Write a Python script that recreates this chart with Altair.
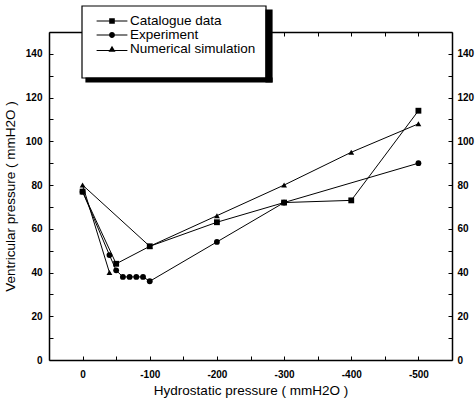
import altair as alt
import pandas as pd

# Ventricular pressure (mmH2O) against hydrostatic pressure (mmH2O)
series = ["Catalogue data", "Experiment", "Numerical simulation"]

cat_x = [0, -50, -100, -200, -300, -400, -500]
cat_y = [77, 44, 52, 63, 72, 73, 114]

exp_x = [0, -40, -50, -60, -70, -80, -90, -100, -200, -300, -500]
exp_y = [77, 48, 41, 38, 38, 38, 38, 36, 54, 72, 90]

# the simulation trace runs from its -40 point back through the origin, then outward
sim_x = [-40, 0, -100, -200, -300, -400, -500]
sim_y = [40, 80, 52, 66, 80, 95, 108]

x_minor = [0, -50, -100, -150, -200, -250, -300, -350, -400, -450, -500]
y_minor = list(range(0, 151, 10))

rows = []
for name, xs, ys in zip(series, [cat_x, exp_x, sim_x], [cat_y, exp_y, sim_y]):
    for i, (xv, yv) in enumerate(zip(xs, ys)):
        rows.append({"series": name, "hp": xv, "vp": yv, "seq": i})
df = pd.DataFrame(rows)

FONT = "Liberation Sans"
xscale = alt.Scale(domain=[50, -550], nice=False, zero=False)
yscale = alt.Scale(domain=[0, 150], nice=False)

common_axis = dict(
    grid=False,
    domainColor="black",
    domainWidth=1.5,
    tickColor="black",
    tickWidth=1,
    tickSize=alt.ExprRef(expr="-4"),
    labelFont=FONT,
    labelFontSize=10,
    labelFontWeight="bold",
    labelColor="black",
    titleFont=FONT,
    titleFontSize=13.5,
    titleFontWeight="normal",
    titleColor="black",
)

x_label_expr = "datum.value % 100 == 0 ? '' + datum.value : ''"
y_label_expr = "datum.value % 20 == 0 && datum.value < 150 ? '' + datum.value : ''"

base = alt.Chart(df)

lines = base.mark_line(color="black", strokeWidth=1).encode(
    x=alt.X("hp:Q", scale=xscale, axis=alt.Axis(
        orient="bottom", values=x_minor, labelExpr=x_label_expr,
        title="Hydrostatic pressure ( mmH2O )", labelPadding=13, titlePadding=4,
        **common_axis)),
    y=alt.Y("vp:Q", scale=yscale, axis=alt.Axis(
        orient="left", values=y_minor, labelExpr=y_label_expr,
        title="Ventricular pressure ( mmH2O )", labelPadding=11, titlePadding=8,
        **common_axis)),
    detail="series:N",
    order="seq:Q",
)

points = base.mark_point(filled=True, color="black", opacity=1).encode(
    x=alt.X("hp:Q", scale=xscale, axis=alt.Axis(
        orient="top", values=x_minor, labels=False, title=None, **common_axis)),
    y=alt.Y("vp:Q", scale=yscale, axis=alt.Axis(
        orient="right", values=y_minor, labelExpr=y_label_expr, title=None,
        labelPadding=9, **common_axis)),
    shape=alt.Shape("series:N", legend=None, scale=alt.Scale(
        domain=series, range=["square", "circle", "triangle-up"])),
    size=alt.Size("series:N", legend=None, scale=alt.Scale(
        domain=series, range=[34, 34, 46])),
)

# legend glyphs: a thin bar (the line) with the series marker on it, fill only
bar = "M-2.2,-0.07H2.2V0.07H-2.2Z"
leg_paths = [
    bar + "M-0.4,-0.4H0.4V0.4H-0.4Z",
    bar + "M0.42,0A0.42,0.42,0,1,1,-0.42,0A0.42,0.42,0,1,1,0.42,0Z",
    "M-2.2,0.13H2.2V0.27H-2.2Z" + "M0,-0.45L0.5,0.4H-0.5Z",
]
legend_layer = base.mark_point(filled=True, color="black", opacity=0).encode(
    x=alt.X("hp:Q", scale=xscale, axis=None),
    y=alt.Y("vp:Q", scale=yscale, axis=None),
    shape=alt.Shape("series:N", scale=alt.Scale(domain=series, range=leg_paths),
                    legend=alt.Legend(
                        title=None, orient="none", legendX=56, legendY=-18,
                        padding=0, rowPadding=0, symbolSize=196, labelOffset=11,
                        labelFont=FONT, labelFontSize=13.5, labelColor="black",
                        symbolOpacity=1, symbolFillColor="black",
                        symbolStrokeWidth=0)),
)

# legend frame (pixel offsets from the plot origin): white box, then the
# drop-shadow strips along its right and bottom edges
frame_df = pd.DataFrame({
    "part": ["box", "right", "bottom"],
    "left": [33, 217, 37], "right": [217, 223, 223],
    "top": [-26, -22, 46], "bottom": [46, 50, 50],
    "paint": ["#ffffff", "#000000", "#000000"],
    "z": [0, 1, 2],
})
legend_frame = alt.Chart(frame_df).mark_rect(stroke="black", strokeWidth=1.2).encode(
    x=alt.X("left:Q", scale=None, axis=None),
    x2="right:Q",
    y=alt.Y("top:Q", scale=None, axis=None),
    y2="bottom:Q",
    fill=alt.Fill("paint:N", scale=None, legend=None),
    order="z:Q",
)

chart = alt.layer(lines, points, legend_frame, legend_layer).resolve_scale(
    shape="independent", size="independent"
).resolve_axis(
    x="independent", y="independent"
).properties(
    width=403, height=328, autosize="none",
    padding={"left": 49, "top": 32, "right": 24, "bottom": 41},
    background="white",
).configure_view(stroke=None)

chart.save("out.html", embed_options={"renderer": "svg", "actions": False})
